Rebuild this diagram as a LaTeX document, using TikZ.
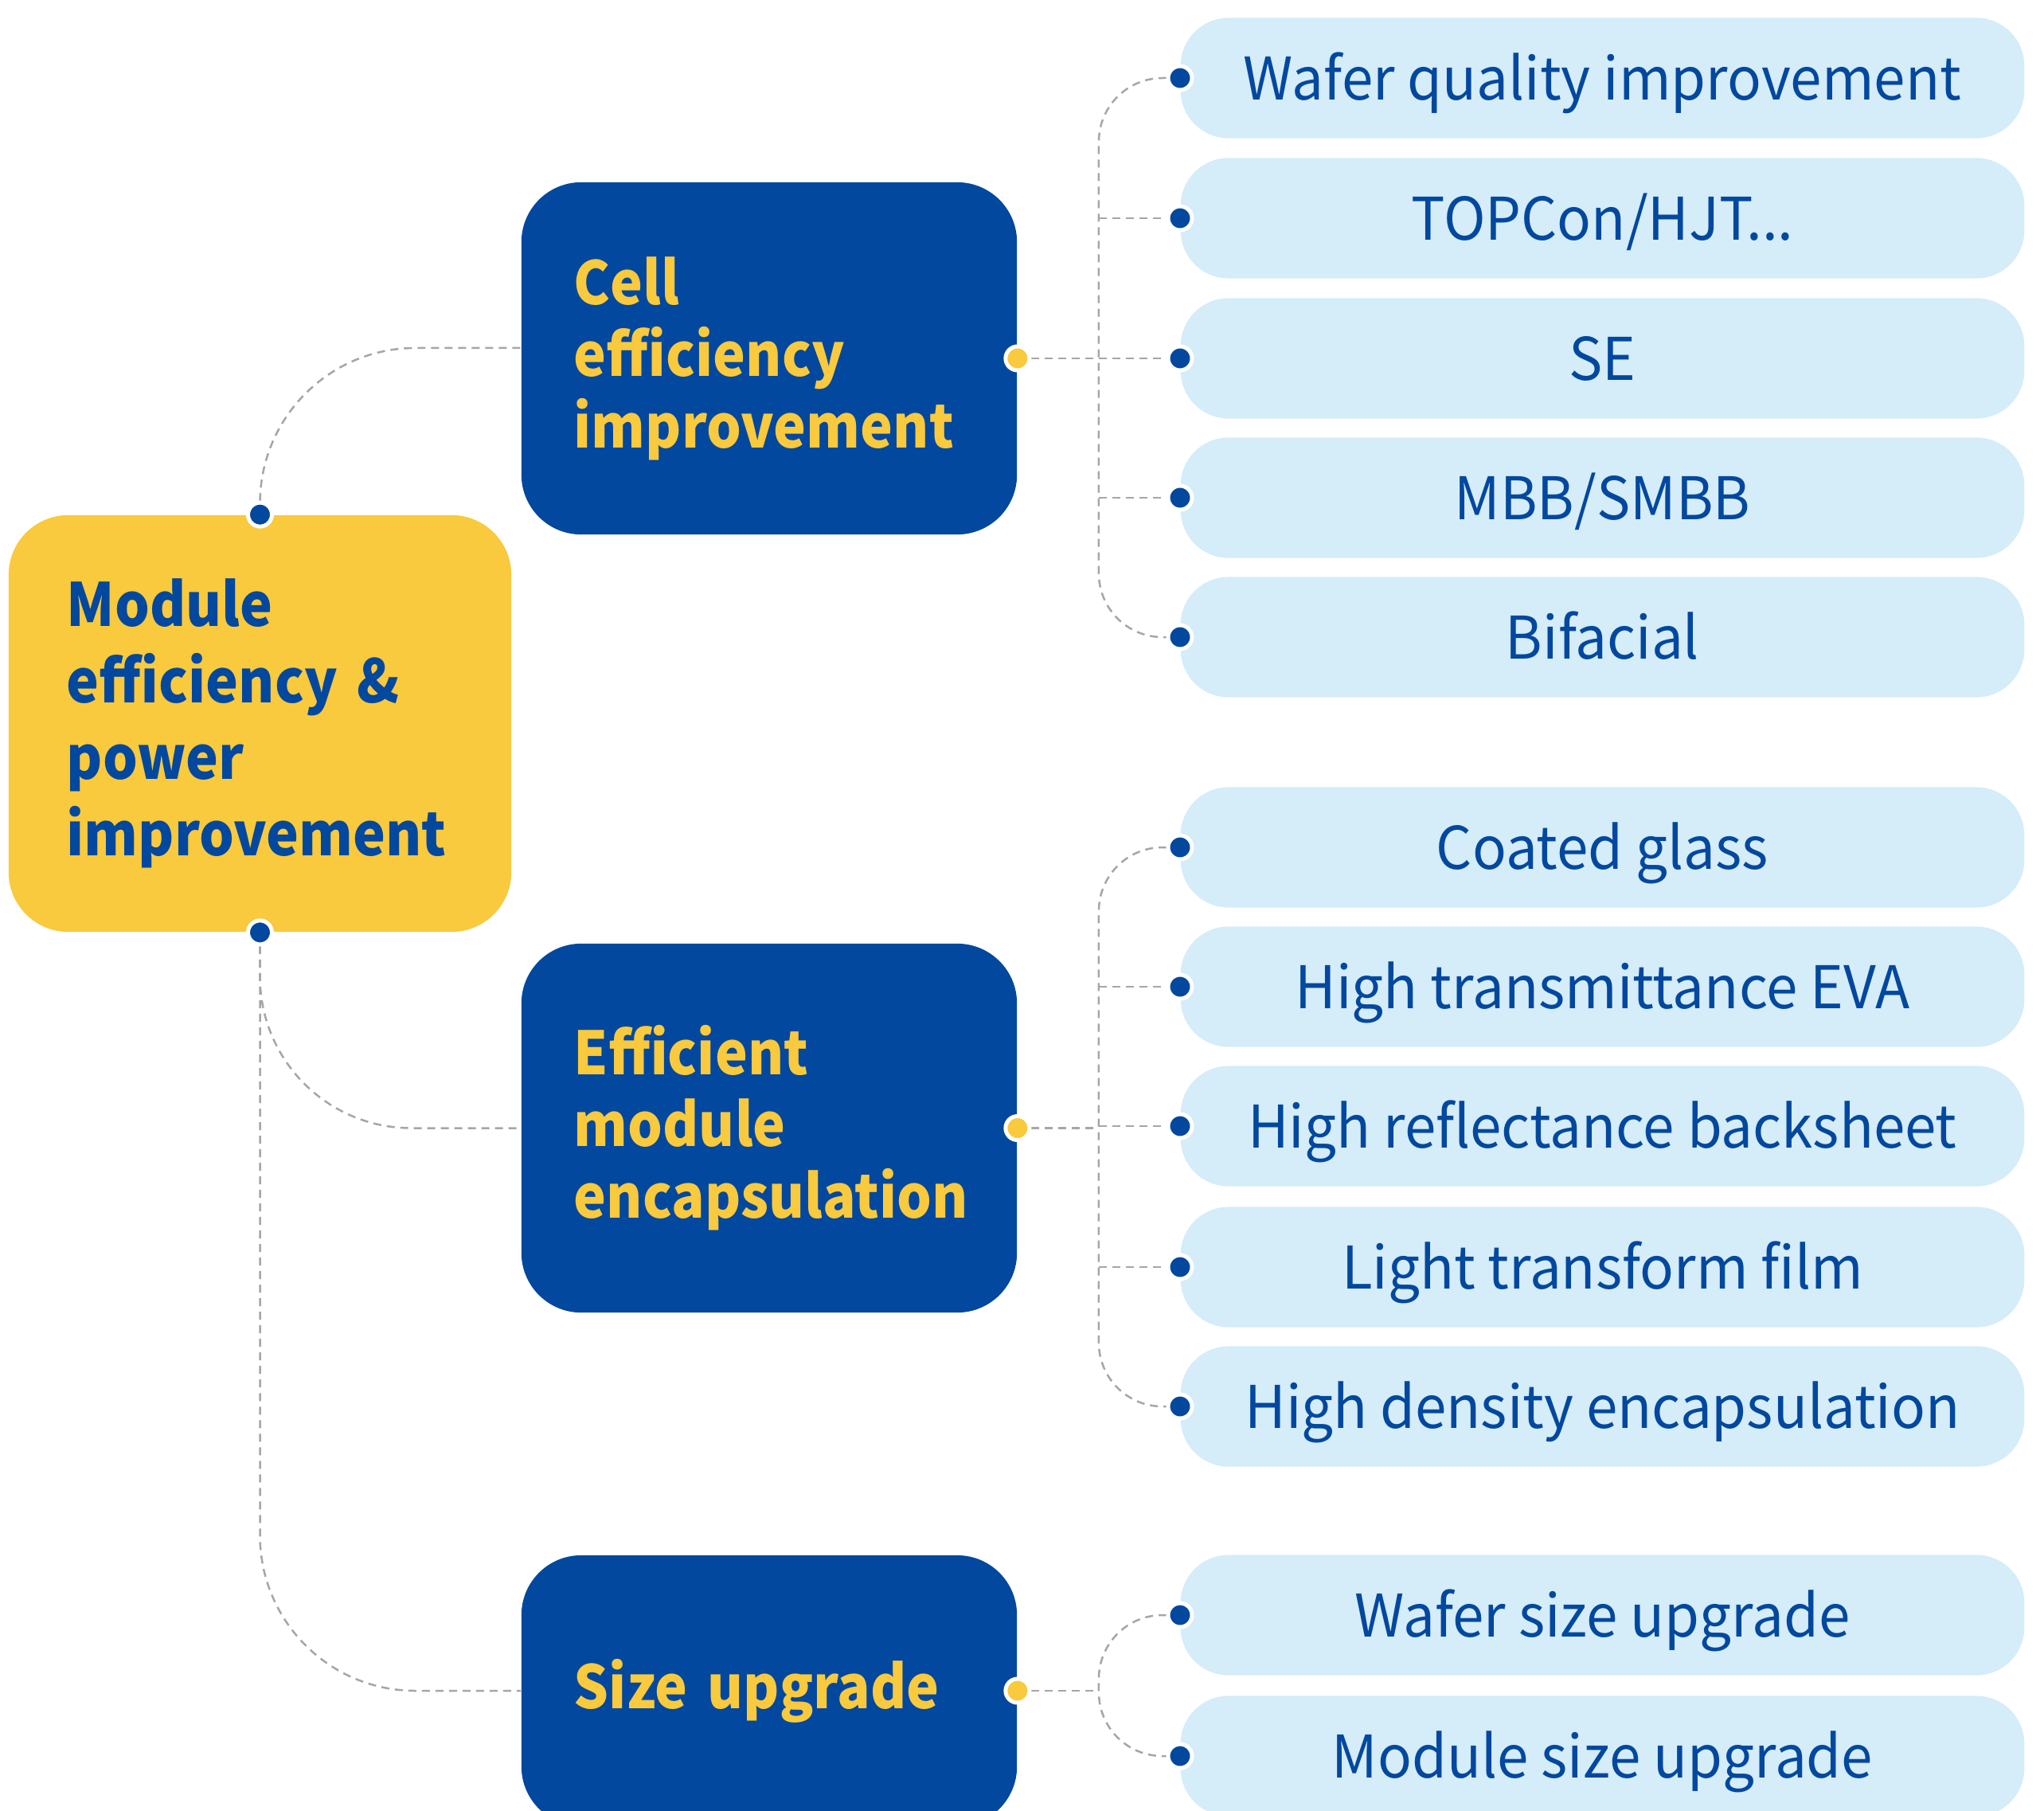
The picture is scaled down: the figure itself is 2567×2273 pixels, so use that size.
\documentclass[tikz,border=0pt]{standalone}
\usepackage{fontspec}
\setmainfont{Noto Sans CJK SC}
\newfontfamily\headfont{Noto Sans CJK SC}[FakeStretch=0.92]
\newfontfamily\leaffont{Noto Sans CJK SC}[FakeStretch=0.96]
\usetikzlibrary{calc}
\definecolor{jaBlue}{RGB}{2,72,158}
\definecolor{jaYellow}{RGB}{249,201,62}
\definecolor{jaLight}{RGB}{213,236,249}
\definecolor{jaGray}{RGB}{166,166,166}
\begin{document}
\begin{tikzpicture}[x=0.01cm,y=-0.01cm,
  rootbox/.style={rounded corners=0.75cm, fill=jaYellow, text=jaBlue, font=\headfont\bfseries\fontsize{21.3}{27.3}\selectfont, align=left, inner sep=0pt, text width=4.85cm, minimum width=6.31cm, minimum height=5.23cm},
  topic/.style={rounded corners=0.75cm, fill=jaBlue, text=jaYellow, font=\headfont\bfseries\fontsize{21.3}{25.6}\selectfont, align=left, inner sep=0pt, text width=4.9cm, minimum width=6.22cm},
  leaf/.style={rounded corners=0.6cm, fill=jaLight, text=jaBlue, font=\leaffont\fontsize{21}{25}\selectfont, inner sep=0pt, text height=0.54cm, text depth=0pt, minimum width=10.59cm, minimum height=1.51cm},
  link/.style={draw=jaGray, line width=0.025cm, dash pattern=on 0.1cm off 0.07cm},
  bdot/.style={circle, fill=jaBlue, draw=white, line width=0.05cm, minimum size=0.3cm, inner sep=0pt},
  ydot/.style={bdot, fill=jaYellow}]
\useasboundingbox (0,0) rectangle (2567,2273);
\node[rootbox] (root) at (326.5,908.5) {Module\\efficiency \&\\power\\improvement};
\node[topic, minimum height=4.42cm] (cell) at (966,450) {Cell\\efficiency\\improvement};
\node[topic, minimum height=4.63cm] (eff) at (966,1416.5) {Efficient\\module\\encapsulation};
\node[topic, minimum height=3.40cm] (size) at (966,2123) {Size upgrade};
\node[leaf] (p1) at (2012.5,98) {Wafer quality improvement};
\node[leaf] (p2) at (2012.5,274) {TOPCon/HJT...};
\node[leaf] (p3) at (2012.5,450) {SE};
\node[leaf] (p4) at (2012.5,625) {MBB/SMBB};
\node[leaf] (p5) at (2012.5,800) {Bifacial};
\node[leaf] (q1) at (2012.5,1064) {Coated glass};
\node[leaf] (q2) at (2012.5,1239) {High transmittance EVA};
\node[leaf] (q3) at (2012.5,1414) {High reflectance backsheet};
\node[leaf] (q4) at (2012.5,1591) {Light transform film};
\node[leaf] (q5) at (2012.5,1766) {High density encapsulation};
\node[leaf] (s1) at (2012.5,2028) {Wafer size upgrade};
\node[leaf] (s2) at (2012.5,2205) {Module size upgrade};
\draw[link, rounded corners=1.95cm] (root.north) |- ([yshift=0.13cm]cell.west);
\draw[link, rounded corners=1.9cm] (root.south) |- (eff.west);
\draw[link, rounded corners=1.95cm] (root.south) |- (size.west);
\coordinate (bus1) at ($(cell.east)!0.5!(p3.west)$);
\coordinate (bus2) at ($(eff.east)!0.5!(eff.east -| q3.west)$);
\coordinate (bus3) at ($(size.east)!0.5!(size.east -| s1.west)$);
\draw[link, rounded corners=0.8cm] (p1.west) -| (bus1 |- p5.west) -- (p5.west);
\draw[link] (cell.east) -- (p3.west);
\draw[link] (bus1 |- p2.west) -- (p2.west);
\draw[link] (bus1 |- p4.west) -- (p4.west);
\draw[link, rounded corners=0.8cm] (q1.west) -| (bus2 |- q5.west) -- (q5.west);
\draw[link] (eff.east) -- (bus2);
\draw[link] (bus2 |- q2.west) -- (q2.west);
\draw[link] (bus2 |- q3.west) -- (q3.west);
\draw[link] (bus2 |- q4.west) -- (q4.west);
\draw[link, rounded corners=0.8cm] (s1.west) -| (bus3 |- s2.west) -- (s2.west);
\draw[link] (size.east) -- (bus3);
\node[bdot] (dRootN) at (root.north) {};
\node[bdot] (dRootS) at (root.south) {};
\node[ydot] (dCell) at (cell.east) {};
\node[ydot] (dEff) at (eff.east) {};
\node[ydot] (dSize) at (size.east) {};
\node[bdot] (dp1) at (p1.west) {};
\node[bdot] (dp2) at (p2.west) {};
\node[bdot] (dp3) at (p3.west) {};
\node[bdot] (dp4) at (p4.west) {};
\node[bdot] (dp5) at (p5.west) {};
\node[bdot] (dq1) at (q1.west) {};
\node[bdot] (dq2) at (q2.west) {};
\node[bdot] (dq3) at (q3.west) {};
\node[bdot] (dq4) at (q4.west) {};
\node[bdot] (dq5) at (q5.west) {};
\node[bdot] (ds1) at (s1.west) {};
\node[bdot] (ds2) at (s2.west) {};
\end{tikzpicture}
\end{document}
